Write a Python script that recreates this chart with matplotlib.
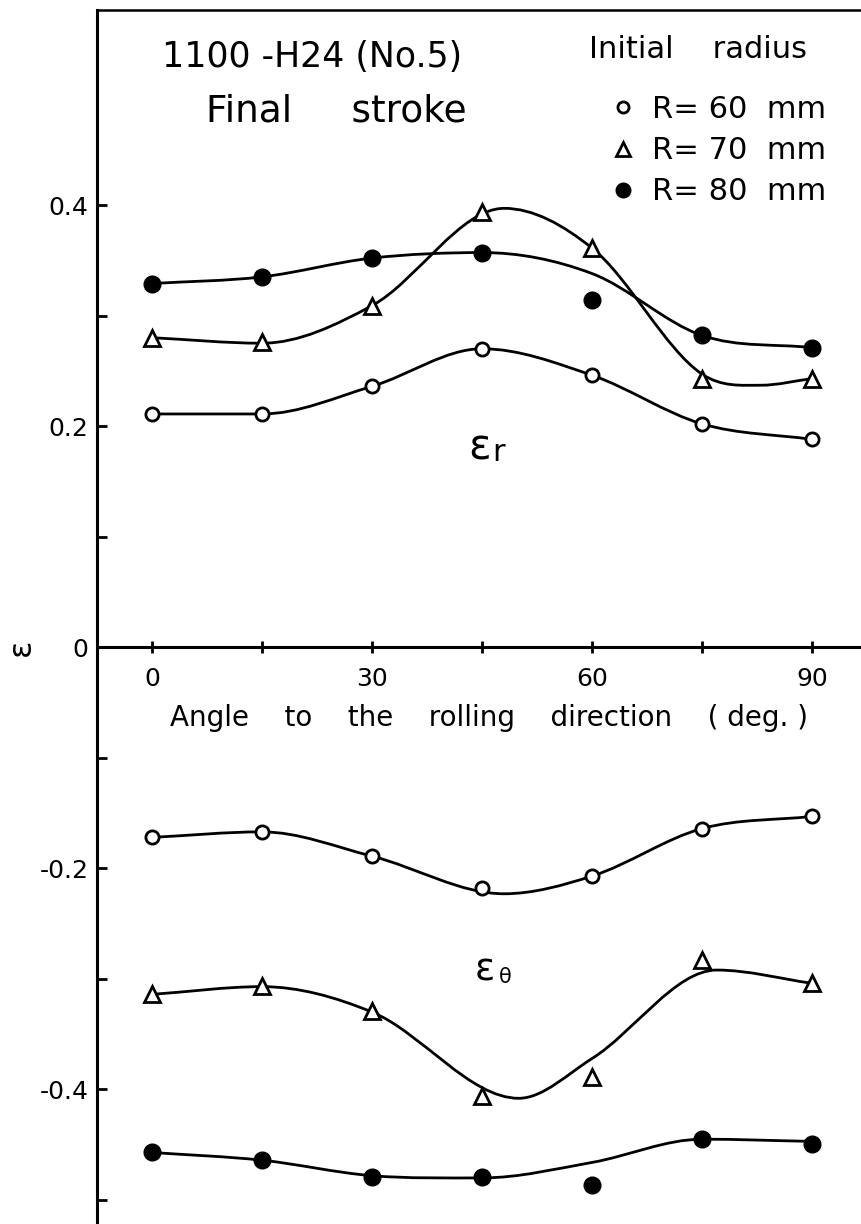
import matplotlib
matplotlib.use('Agg')
import matplotlib.pyplot as plt
from matplotlib.path import Path
from matplotlib.patches import PathPatch
from matplotlib.lines import Line2D

plt.rcParams['font.family'] = ['DejaVu Sans']
plt.rcParams['axes.unicode_minus'] = False

# ---- data ----
angles = [0, 15, 30, 45, 60, 75, 90]
er_r60 = [0.211, 0.211, 0.236, 0.270, 0.246, 0.202, 0.188]
er_r70 = [0.280, 0.276, 0.309, 0.394, 0.361, 0.243, 0.243]
er_r80 = [0.329, 0.335, 0.352, 0.357, 0.314, 0.282, 0.271]
et_r60 = [-0.172, -0.167, -0.189, -0.218, -0.207, -0.164, -0.153]
et_r70 = [-0.314, -0.306, -0.329, -0.406, -0.389, -0.283, -0.304]
et_r80 = [-0.457, -0.464, -0.479, -0.479, -0.486, -0.445, -0.449]

# hand-drawn fitted curves: knots
er_r60_curve_x = [0, 15, 30, 45, 60, 75, 90]
er_r60_curve_y = [0.211, 0.211, 0.236, 0.270, 0.246, 0.202, 0.188]
er_r70_curve_x = [0, 15, 30, 48, 60, 75, 83, 90]
er_r70_curve_y = [0.280, 0.275, 0.309, 0.397, 0.361, 0.247, 0.237, 0.243]
er_r80_curve_x = [0, 15, 30, 45, 60, 75, 90]
er_r80_curve_y = [0.329, 0.335, 0.352, 0.357, 0.338, 0.282, 0.271]
et_r60_curve_x = [0, 15, 30, 48, 60, 75, 90]
et_r60_curve_y = [-0.172, -0.167, -0.189, -0.223, -0.207, -0.164, -0.153]
et_r70_curve_x = [0, 15, 30, 50, 60, 77, 90]
et_r70_curve_y = [-0.314, -0.307, -0.330, -0.408, -0.372, -0.292, -0.304]
et_r80_curve_x = [0, 15, 30, 45, 60, 75, 90]
et_r80_curve_y = [-0.457, -0.464, -0.478, -0.480, -0.466, -0.445, -0.447]

legend_labels = ['R= 60  mm', 'R= 70  mm', 'R= 80  mm']
xticks_major = [0, 30, 60, 90]
xticks_minor = [15, 45, 75]
yticks_major = [-0.4, -0.2, 0, 0.2, 0.4]
yticks_minor = [-0.5, -0.3, -0.1, 0.1, 0.3]


def smooth_path(xs, ys):
    """Cubic Bezier path through knots (Hermite tangents)."""
    n = len(xs)
    d = [(ys[i + 1] - ys[i]) / (xs[i + 1] - xs[i]) for i in range(n - 1)]
    m = [0.0] * n
    m[0] = d[0]
    m[-1] = d[-1]
    for i in range(1, n - 1):
        if d[i - 1] * d[i] <= 0:
            m[i] = 0.0
        else:
            m[i] = 0.5 * (d[i - 1] + d[i])
    verts = [(xs[0], ys[0])]
    codes = [Path.MOVETO]
    for i in range(n - 1):
        h = xs[i + 1] - xs[i]
        verts += [(xs[i] + h / 3, ys[i] + m[i] * h / 3),
                  (xs[i + 1] - h / 3, ys[i + 1] - m[i + 1] * h / 3),
                  (xs[i + 1], ys[i + 1])]
        codes += [Path.CURVE4] * 3
    return Path(verts, codes)


fig = plt.figure(figsize=(8.62, 12.24), dpi=100)
ax = fig.add_axes([97 / 862, 0, 765 / 862, 1214 / 1224])
ax.set_xlim(-7.5, 96.8)
ax.set_ylim(-0.5217, 0.5764)

ax.spines['right'].set_visible(False)
ax.spines['left'].set_linewidth(2.2)
ax.spines['top'].set_linewidth(1.8)
ax.spines['bottom'].set_position(('data', 0))
ax.spines['bottom'].set_linewidth(2.2)

ax.set_xticks(xticks_major)
ax.set_xticks(xticks_minor, minor=True)
ax.set_xticklabels([str(v) for v in xticks_major])
ax.tick_params(axis='x', which='both', direction='inout', length=8, width=2,
               pad=10, labelsize=18)
ax.set_yticks(yticks_major)
ax.set_yticks(yticks_minor, minor=True)
ax.set_yticklabels(['-0.4', '-0.2', '0', '0.2', '0.4'])
ax.tick_params(axis='y', which='both', direction='in', length=7.5, width=2,
               pad=6, labelsize=18)

# curves
for cx, cy in [(er_r60_curve_x, er_r60_curve_y), (er_r70_curve_x, er_r70_curve_y),
               (er_r80_curve_x, er_r80_curve_y), (et_r60_curve_x, et_r60_curve_y),
               (et_r70_curve_x, et_r70_curve_y), (et_r80_curve_x, et_r80_curve_y)]:
    ax.add_patch(PathPatch(smooth_path(cx, cy), fill=False, lw=2.0,
                           edgecolor='black', zorder=2))

open_c = dict(ls='none', marker='o', ms=9.5, mfc='white', mec='black', mew=2, zorder=3)
tri = dict(ls='none', marker='^', ms=12, mfc='white', mec='black', mew=2, zorder=3)
fill_c = dict(ls='none', marker='o', ms=12, mfc='black', mec='black', mew=1, zorder=3)

ax.plot(angles, er_r60, **open_c)
ax.plot(angles, er_r70, **tri)
ax.plot(angles, er_r80, **fill_c)
ax.plot(angles, et_r60, **open_c)
ax.plot(angles, et_r70, **tri)
ax.plot(angles, et_r80, **fill_c)

# labels
ax.text(21.8, 0.534, '1100 -H24 (No.5)', fontsize=25, ha='center', va='center')
ax.text(25.1, 0.485, 'Final     stroke', fontsize=27, ha='center', va='center')
ax.text(74.5, 0.541, 'Initial    radius', fontsize=22, ha='center', va='center')

handles = [Line2D([], [], ls='none', marker='o', ms=8, mfc='white', mec='black', mew=2),
           Line2D([], [], ls='none', marker='^', ms=10, mfc='white', mec='black', mew=2),
           Line2D([], [], ls='none', marker='o', ms=10.5, mfc='black', mec='black')]
ax.legend(handles, legend_labels, loc='upper left', bbox_to_anchor=(0.671, 0.930),
          frameon=False, fontsize=22, handlelength=0.85, handletextpad=0.5,
          labelspacing=0.40, borderpad=0, borderaxespad=0)

ax.text(44.7, 0.181, 'ε', fontsize=30, ha='center', va='center')
ax.text(47.2, 0.176, 'r', fontsize=22, ha='center', va='center')
ax.text(45.4, -0.292, 'ε', fontsize=27, ha='center', va='center')
ax.text(48.2, -0.298, 'θ', fontsize=15, ha='center', va='center')

ax.set_xlabel('Angle    to    the    rolling    direction    ( deg. )', fontsize=20)
ax.xaxis.set_label_coords(0.512, (1224 - 714) / 1214 + 0.008)
ax.set_ylabel('ε', fontsize=23, rotation=90)
ax.yaxis.set_label_coords(-0.078, 0.475)

fig.savefig('out.png', dpi=100)
